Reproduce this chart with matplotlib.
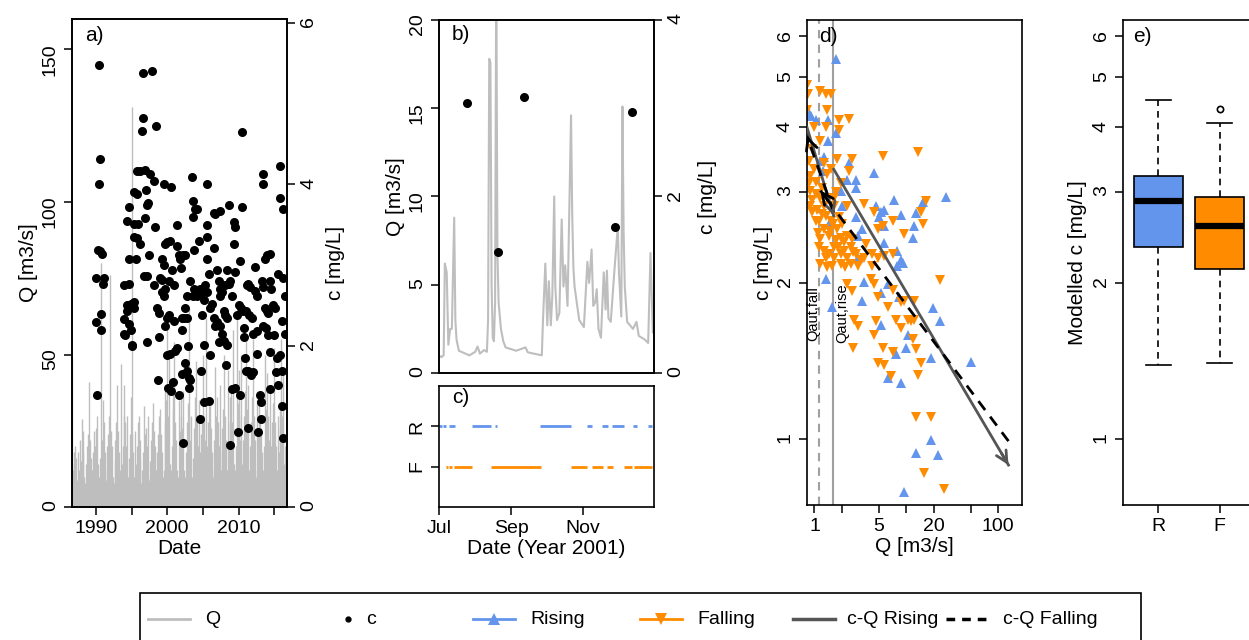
import matplotlib
matplotlib.use('Agg')
import matplotlib.pyplot as plt
import numpy as np
from matplotlib.patches import Rectangle

plt.rcParams['font.family'] = ['Liberation Sans', 'DejaVu Sans']

W, H = 1249, 640
GREY = '#BEBEBE'
BLUE = '#6495ED'
ORANGE = '#FF8C00'
DARK = '#555555'
LAB = 15
TCK = 14

# ---- panel a: long-term discharge (peaks, 8 per year from 1986.625) ----
qa_start = 1986.625
qa_peaks = [
    49, 12, 18,
    14, 20, 16, 9, 18, 12, 22, 15,
    29, 18, 25, 10, 8, 14, 20, 24,
    41, 22, 16, 9, 12, 18, 25, 20,
    26, 30, 14, 8, 10, 16, 80, 22,
    35, 28, 18, 9, 12, 20, 24, 30,
    76, 25, 20, 10, 8, 15, 22, 28,
    40, 25, 18, 12, 47, 14, 20, 30,
    40, 28, 20, 30, 10, 16, 24, 36,
    131, 24, 18, 10, 25, 14, 20, 28,
    30, 22, 16, 8, 12, 18, 33, 24,
    26, 20, 30, 10, 9, 15, 22, 28,
    34, 25, 20, 12, 10, 18, 24, 30,
    32, 24, 18, 10, 12, 40, 28, 35,
    60, 30, 50, 14, 12, 20, 32, 40,
    54, 28, 22, 12, 10, 35, 25, 30,
    38, 26, 38, 12, 10, 18, 28, 34,
    65, 30, 22, 30, 10, 16, 26, 36,
    48, 28, 20, 12, 35, 18, 24, 30,
    50, 30, 22, 14, 62, 20, 28, 34,
    33, 26, 18, 10, 12, 22, 46, 30,
    36, 28, 20, 40, 12, 18, 26, 32,
    50, 30, 22, 12, 45, 20, 28, 36,
    40, 28, 58, 14, 12, 20, 62, 34,
    45, 30, 22, 50, 14, 22, 30, 38,
    55, 32, 24, 40, 12, 20, 28, 36,
    55, 30, 22, 12, 10, 35, 26, 34,
    30, 26, 18, 10, 12, 20, 50, 32,
    44, 30, 22, 38, 12, 20, 28, 34,
    52, 28, 20, 12, 30, 18, 26, 32,
    55, 30, 45, 14, 20, 24, 36,
]

ca_points = [
    (1990.47, 5.48), (1990.56, 4.32), (1990.37, 4.0), (1990.28, 3.19), (1990.6, 3.17),
    (1990.84, 3.14), (1990.0, 2.84), (1991.07, 2.84), (1991.0, 2.77), (1990.05, 2.29),
    (1990.7, 2.39), (1990.7, 2.20), (1990.14, 1.39),
    (1996.59, 5.38), (1997.85, 5.40), (1996.59, 4.82), (1996.45, 4.66), (1998.46, 4.72),
    (1995.75, 4.16), (1996.82, 4.18), (1997.6, 4.13), (1998.18, 4.04), (1996.2, 4.16),
    (1995.28, 3.90), (1997.0, 3.93), (1995.75, 3.88), (1994.58, 3.72), (1997.15, 3.74),
    (1997.3, 3.77), (1994.35, 3.55), (1995.28, 3.51), (1995.9, 3.51), (1996.9, 3.58),
    (1998.3, 3.47), (1995.28, 3.35), (1995.75, 3.33), (1996.2, 3.26), (1994.58, 3.07),
    (1995.65, 3.07), (1997.5, 3.12), (1993.9, 2.75), (1994.6, 2.77), (1996.8, 2.87),
    (1997.15, 2.87), (1998.1, 2.75), (1994.35, 2.50), (1994.9, 2.52), (1995.28, 2.54),
    (1994.35, 2.43), (1995.28, 2.47), (1993.9, 2.33), (1994.6, 2.27), (1993.97, 2.15),
    (1994.1, 2.13), (1994.9, 2.20), (1995.0, 2.01), (1997.15, 2.04), (1995.0, 1.99),
    (1998.65, 1.58), (1998.8, 2.11),
    (1998.55, 2.47), (1998.8, 2.41), (1999.25, 3.07), (1999.5, 3.00), (1999.0, 2.84),
    (1999.25, 2.82), (1999.7, 2.70), (1999.25, 2.66), (1999.7, 3.26), (1999.6, 4.0),
    (2000.56, 3.97), (2000.0, 3.28), (2000.4, 3.30), (2000.65, 2.94), (2000.2, 2.80),
    (2001.0, 2.75), (1999.5, 2.61), (2000.0, 2.34), (2000.2, 2.38), (2001.0, 2.31),
    (1999.7, 2.24), (2000.0, 1.88), (2000.42, 1.90), (2001.1, 1.94), (2001.35, 1.97),
    (2000.8, 1.55), (2000.05, 1.48), (2000.5, 1.44), (2001.6, 1.39), (2001.35, 3.49),
    (2001.35, 3.24), (2001.6, 3.12), (2001.8, 3.07), (2001.9, 2.96), (2002.2, 3.12),
    (2002.5, 3.12), (2002.05, 2.34), (2002.4, 2.34), (2002.75, 2.34), (2002.05, 2.20),
    (2002.5, 2.47), (2002.75, 2.61), (2002.05, 1.65), (2002.5, 1.78), (2002.75, 1.69),
    (2003.0, 1.60), (2003.2, 1.58), (2003.1, 1.48), (2002.2, 0.79), (2002.85, 1.99),
    (2003.46, 4.09), (2003.6, 3.79), (2003.9, 3.70), (2004.15, 3.70), (2003.6, 3.60),
    (2003.2, 2.80), (2003.8, 2.70), (2003.6, 2.61), (2004.15, 2.61), (2004.4, 3.30),
    (2003.7, 3.19),
    (2004.6, 2.70), (2004.85, 2.66), (2005.55, 4.0), (2005.55, 3.49), (2005.55, 3.35),
    (2005.65, 3.07), (2005.8, 2.89), (2005.3, 2.75), (2005.55, 2.66), (2005.1, 2.57),
    (2004.85, 2.38), (2005.1, 2.01), (2004.75, 1.69), (2005.2, 1.30), (2005.9, 1.32),
    (2004.6, 1.09), (2006.5, 3.65), (2006.7, 3.63), (2007.4, 3.67), (2006.5, 3.21),
    (2006.0, 2.47), (2006.25, 2.52), (2006.5, 2.34), (2006.7, 2.24), (2006.96, 2.29),
    (2006.0, 1.88), (2006.96, 2.94), (2007.2, 2.80), (2007.35, 2.70), (2007.4, 2.61),
    (2007.65, 2.66), (2008.1, 2.75), (2008.35, 2.94), (2008.6, 2.77), (2008.83, 2.80),
    (2007.9, 2.43), (2008.1, 2.38), (2008.35, 2.34), (2007.4, 2.24), (2007.65, 2.15),
    (2007.9, 2.06), (2008.35, 2.01), (2007.2, 2.04), (2008.6, 3.74), (2008.3, 1.76),
    (2008.83, 0.77), (2009.05, 1.46), (2009.5, 1.48), (2009.3, 3.53), (2009.3, 3.26),
    (2009.5, 3.47), (2009.5, 2.91), (2009.05, 2.61), (2009.77, 2.38), (2009.86, 0.93),
    (2010.47, 4.65), (2010.47, 3.72), (2010.14, 3.05), (2010.0, 2.50), (2010.3, 2.47),
    (2010.6, 2.43), (2010.23, 1.39), (2010.7, 2.22), (2010.8, 2.11), (2010.93, 1.85),
    (2011.07, 1.69), (2011.4, 0.98), (2011.2, 2.75), (2011.4, 2.77), (2011.64, 2.73),
    (2011.07, 2.43), (2011.5, 2.38), (2011.9, 2.34), (2011.4, 1.69), (2011.73, 1.64),
    (2012.1, 1.67), (2012.33, 2.98), (2012.33, 2.68), (2012.57, 2.61), (2012.1, 2.15),
    (2012.57, 2.18), (2012.57, 1.90), (2012.8, 0.93), (2013.04, 1.39), (2013.13, 1.30),
    (2013.13, 1.09), (2013.5, 4.13), (2013.5, 4.0), (2013.74, 3.07), (2013.97, 3.12),
    (2014.44, 3.14), (2013.27, 2.80), (2013.5, 2.73), (2013.74, 2.47), (2013.97, 2.43),
    (2014.2, 2.41), (2013.5, 2.24), (2013.88, 2.22), (2014.2, 2.13), (2014.44, 1.92),
    (2014.44, 1.46), (2014.44, 2.80), (2014.5, 2.70), (2014.9, 2.50), (2015.14, 2.47),
    (2015.0, 2.13), (2015.37, 1.85), (2015.6, 2.89), (2015.84, 4.23), (2015.75, 3.83),
    (2016.1, 2.31), (2016.3, 3.70), (2016.3, 2.84), (2016.54, 2.61), (2016.54, 2.15),
    (2015.84, 1.88), (2016.1, 1.69), (2016.1, 1.25), (2016.2, 0.86), (2015.6, 1.51),
    (2015.28, 1.67),
]
ca_year = [p[0] for p in ca_points]
ca_conc = [p[1] for p in ca_points]

# ---- panel b: Jul-Dec 2001 (day 0 = 1 Jul) ----
qb_day = [0, 2, 4, 5, 6.6, 8, 9.5, 11, 13, 14, 15, 17, 26, 31, 33, 35, 38.6, 41, 42, 43,
          44, 45, 46, 47, 48, 49, 50, 51, 53, 55, 57, 66, 74, 76, 88, 89, 91, 92.7, 94,
          95.7, 97, 98.6, 99.5, 101, 103, 105, 106.5, 108, 110, 113, 114, 115, 116, 120,
          124, 127, 128.5, 130.6, 132, 133.7, 135, 136.5, 138.6, 141, 142.6, 143.7, 145,
          147, 150, 153, 154, 156, 157, 158, 159, 161, 166, 169, 171, 176, 179, 181, 183]
qb_q = [1.0, 0.9, 1.0, 6.2, 5.7, 1.6, 2.5, 2.5, 8.8, 3.0, 1.9, 1.26, 1.0, 1.2, 1.5, 1.1,
        1.3, 1.2, 3.0, 17.8, 17.6, 5.0, 2.0, 1.8, 4.0, 23.0, 6.8, 4.0, 2.5, 1.8, 1.45,
        1.26, 1.45, 1.17, 1.0, 3.0, 6.2, 2.7, 5.2, 2.7, 4.4, 10.0, 5.0, 3.0, 3.4, 8.7,
        4.9, 6.1, 3.8, 14.6, 9.0, 6.0, 4.9, 3.0, 2.6, 6.3, 5.1, 7.0, 3.8, 4.0, 4.75, 2.5,
        2.0, 5.7, 3.6, 5.8, 3.1, 2.9, 5.7, 8.3, 5.7, 3.2, 15.1, 8.0, 4.9, 2.9, 2.5, 2.9,
        2.1, 1.9, 1.7, 6.8, 2.3]
cb_day = [23.7, 50.6, 72.9, 150.9, 165.0]
cb_conc = [3.06, 1.37, 3.13, 1.65, 2.96]
month_ticks = [0, 62, 123]
month_labels = ['Jul', 'Sep', 'Nov']

# ---- panel c: rising / falling periods (start, end day) ----
rise_periods = [(0, 2.5), (3.5, 5.7), (8.6, 13.7), (28, 44.3), (48, 50), (86.5, 113.3),
                (126.5, 131.3), (139.9, 144.7), (148.4, 158.4), (166.1, 169.8), (179.2, 182.1)]
fall_periods = [(5.7, 7.5), (8.5, 10.9), (12.9, 28.6), (44.3, 87), (112.8, 127),
                (130.7, 140.4), (144.1, 149), (158.4, 165), (166.5, 182.7)]

# ---- panel d: c-Q relation ----
rising_pts = [
    (1.70, 5.42), (0.87, 4.27), (1.03, 4.13), (1.40, 4.13), (1.40, 3.77), (1.70, 3.90),
    (1.27, 3.50), (2.38, 3.41), (2.28, 3.17), (2.81, 3.17), (2.81, 3.06), (4.46, 3.27),
    (7.4, 2.89), (4.66, 2.82), (5.28, 2.75), (5.74, 2.77), (5.06, 2.68), (8.74, 2.71),
    (15.1, 2.87), (27.2, 2.93), (12.8, 2.73), (12.2, 2.58), (5.74, 2.58), (2.81, 2.68),
    (3.31, 2.55), (3.0, 2.47), (1.43, 2.60), (5.74, 2.39), (8.0, 2.31), (8.74, 2.22),
    (9.1, 2.19), (11.7, 2.45), (8.0, 2.16), (3.0, 2.24), (1.32, 2.04), (3.47, 2.01),
    (6.25, 1.99), (5.28, 1.91), (3.31, 1.85), (8.4, 1.88), (19.4, 1.79), (5.28, 1.66),
    (23.5, 1.69), (10.4, 1.59), (10.0, 1.50), (7.7, 1.46), (18.3, 1.43), (50.2, 1.41),
    (6.25, 1.31), (8.74, 1.28), (1.56, 1.80), (18.6, 0.995), (12.8, 0.94), (22, 0.93),
    (9.5, 0.79), (1.16, 3.45), (1.93, 3.02), (2.0, 2.82), (0.92, 4.20), (1.25, 3.30),
]
falling_pts = [
    (0.83, 4.83), (0.85, 4.65), (1.16, 4.71), (1.35, 4.65), (1.5, 4.63), (0.98, 4.0),
    (1.32, 4.0), (1.85, 4.13), (2.38, 4.16), (1.16, 3.77), (0.94, 3.64), (1.85, 3.96),
    (1.77, 3.47), (2.59, 3.47), (2.38, 3.30), (5.5, 3.52), (13.5, 3.59), (1.5, 3.33),
    (1.38, 3.25), (0.9, 3.22), (1.03, 3.14), (1.21, 3.06), (0.9, 3.02), (1.16, 2.92),
    (1.43, 2.92), (1.70, 3.0), (1.93, 3.12), (0.94, 2.89), (1.07, 2.77), (1.32, 2.70),
    (1.63, 2.82), (2.28, 2.82), (3.47, 2.85), (4.46, 2.75), (7.1, 2.64), (4.86, 2.55),
    (5.5, 2.58), (15.1, 2.60), (14.5, 2.75), (16.4, 2.88), (9.5, 2.49), (1.12, 2.64),
    (1.27, 2.55), (1.16, 2.43), (1.43, 2.47), (1.77, 2.55), (1.93, 2.45), (2.28, 2.47),
    (2.59, 2.43), (1.63, 2.35), (2.1, 2.31), (2.81, 2.28), (1.32, 2.24), (1.63, 2.24),
    (1.93, 2.18), (2.48, 2.18), (3.47, 2.24), (4.28, 2.16), (4.86, 2.24), (5.74, 2.26),
    (7.1, 2.28), (4.28, 2.28), (1.12, 2.35), (1.38, 2.15), (2.28, 1.99), (2.59, 1.93),
    (4.1, 2.04), (4.46, 1.99), (4.86, 1.88), (7.1, 1.94), (6.25, 1.80), (8.74, 1.84),
    (9.5, 1.85), (12.2, 1.85), (23.5, 2.03), (2.7, 1.70), (3.0, 1.65), (4.66, 1.69),
    (4.46, 1.59), (7.7, 1.70), (10.4, 1.70), (11.3, 1.69), (12.2, 1.70), (8.74, 1.64),
    (11.7, 1.56), (12.8, 1.49), (5.5, 1.50), (7.1, 1.47), (2.65, 1.50), (4.86, 1.40),
    (5.74, 1.39), (6.8, 1.32), (14.5, 1.40), (13.3, 1.33), (12.8, 1.10), (18.6, 1.10),
    (15.7, 0.86), (25.6, 0.80), (0.83, 4.33), (1.38, 4.33), (0.87, 3.44), (0.98, 3.33),
    (1.27, 3.41), (0.9, 2.82), (1.03, 2.64), (1.50, 2.64), (1.85, 2.68), (2.0, 2.60),
    (1.70, 2.42), (1.27, 2.31), (1.43, 2.28), (1.93, 2.28), (2.28, 2.24), (3.0, 2.16),
    (3.19, 2.22), (1.16, 2.18), (1.56, 2.16), (2.1, 2.40), (2.48, 2.35), (1.27, 2.82),
    (1.63, 2.92), (0.88, 3.12), (1.05, 2.98), (1.22, 2.72), (1.48, 2.52), (1.8, 2.35),
    (2.15, 2.15), (2.6, 2.30), (3.6, 2.38), (1.1, 2.50), (0.95, 2.75), (1.6, 2.60),
]
q_aut_fall = 1.11
q_aut_rise = 1.60
cq_rise_low = [(0.83, 4.0), (1.62, 2.70)]
cq_rise_high = [(1.62, 3.32), (129.0, 0.89)]
cq_fall_high = [(129.0, 0.99), (1.16, 3.02)]
cq_fall_low = [(1.62, 2.74), (0.83, 3.85)]

# ---- panel e: modelled concentration boxplots ----
box_names = ['R', 'F']
box_colors = [BLUE, ORANGE]
box_whislo = [1.39, 1.40]
box_q1 = [2.35, 2.13]
box_med = [2.88, 2.58]
box_q3 = [3.22, 2.93]
box_whishi = [4.51, 4.07]
box_fliers = [[], [4.35]]

fig = plt.figure(figsize=(W / 100, H / 100), dpi=100)


def px_axes(x0, y0, x1, y1):
    return fig.add_axes([x0 / W, 1 - y1 / H, (x1 - x0) / W, (y1 - y0) / H])


def style(ax):
    ax.tick_params(direction='out', length=6, width=1.1, labelsize=TCK, colors='black')
    ax.tick_params(axis='y', labelrotation=90)
    for s in ax.spines.values():
        s.set_linewidth(1.2)
    ax.minorticks_off()


def panel_label(ax, s, x=0.06):
    ax.text(x, 0.985, s, transform=ax.transAxes, ha='left', va='top', fontsize=15, zorder=10)


# a)
ax_a = px_axes(72, 19, 287, 507)
qa_time = qa_start + np.arange(len(qa_peaks)) / 8.0
ax_a.vlines(qa_time, 0, qa_peaks, color=GREY, lw=1.0)
ax_a.set_xlim(1986.65, 2016.8)
ax_a.set_ylim(0, 160)
ax_a.set_xticks([1990, 1995, 2000, 2005, 2010, 2015])
ax_a.set_xticklabels(['1990', '', '2000', '', '2010', ''])
ax_a.set_yticks([0, 50, 100, 150])
style(ax_a)
ax_a.set_xlabel('Date', fontsize=LAB, labelpad=1)
ax_a.set_ylabel('Q [m3/s]', fontsize=LAB, labelpad=3)
ax_a2 = ax_a.twinx()
ax_a2.plot(ca_year, ca_conc, 'o', color='black', ms=6.5, mew=0)
ax_a2.set_ylim(0, 6.05)
ax_a2.set_yticks([0, 2, 4, 6])
style(ax_a2)
ax_a2.set_ylabel('c [mg/L]', fontsize=LAB, labelpad=6)
panel_label(ax_a2, 'a)')

# b)
ax_b = px_axes(439, 20, 654, 373)
ax_b.plot(qb_day, qb_q, color=GREY, lw=1.5)
ax_b.set_xlim(0, 184)
ax_b.set_ylim(0, 20)
ax_b.set_xticks([])
ax_b.set_yticks([0, 5, 10, 15, 20])
style(ax_b)
ax_b.set_ylabel('Q [m3/s]', fontsize=LAB, labelpad=3)
ax_b2 = ax_b.twinx()
ax_b2.plot(cb_day, cb_conc, 'o', color='black', ms=6.5, mew=0)
ax_b2.set_ylim(0, 4)
ax_b2.set_yticks([0, 2, 4])
style(ax_b2)
ax_b2.set_ylabel('c [mg/L]', fontsize=LAB, labelpad=10)
panel_label(ax_b2, 'b)')

# c)
ax_c = px_axes(439, 386, 654, 507)
for s0, s1 in rise_periods:
    ax_c.hlines(1, s0, s1, color=BLUE, lw=2)
for s0, s1 in fall_periods:
    ax_c.hlines(0, s0, s1, color=ORANGE, lw=2)
ax_c.set_xlim(0, 184)
ax_c.set_ylim(-1, 2)
ax_c.set_xticks(month_ticks)
ax_c.set_xticklabels(month_labels)
ax_c.set_yticks([0, 1])
ax_c.set_yticklabels(['F', 'R'])
style(ax_c)
ax_c.set_xlabel('Date (Year 2001)', fontsize=LAB, labelpad=1)
panel_label(ax_c, 'c)')

# d)
ax_d = px_axes(807, 20, 1022, 505)
ax_d.set_xscale('log')
ax_d.set_yscale('log')
ax_d.axvline(q_aut_fall, color='#A0A0A0', ls=(0, (4, 3)), lw=1.5)
ax_d.axvline(q_aut_rise, color='#A0A0A0', lw=1.5)
ax_d.plot([p[0] for p in rising_pts], [p[1] for p in rising_pts], '^', color=BLUE, ms=7, mew=0)
ax_d.plot([p[0] for p in falling_pts], [p[1] for p in falling_pts], 'v', color=ORANGE, ms=7, mew=0)


def cq_arrow(seg, color, ls):
    (x0, y0), (x1, y1) = seg
    ax_d.plot([x0, x1], [y0, y1], color=color, lw=2, ls=ls, zorder=5)
    xb = x1 * (x0 / x1) ** 0.04
    yb = y1 * (y0 / y1) ** 0.04
    ax_d.annotate('', xy=(x1, y1), xytext=(xb, yb),
                  arrowprops=dict(arrowstyle='->', color=color, lw=2,
                                  mutation_scale=20, shrinkA=0, shrinkB=0), zorder=6)


cq_arrow(cq_rise_low, DARK, '-')
cq_arrow(cq_rise_high, DARK, '-')
cq_arrow(cq_fall_high, 'black', (0, (4, 3)))
cq_arrow(cq_fall_low, 'black', (0, (4, 3)))
ax_d.text(q_aut_fall * 0.875, 1.75, 'Qaut,fall', rotation=90, ha='center', va='center', fontsize=10.5)
ax_d.text(q_aut_rise * 1.26, 1.75, 'Qaut,rise', rotation=90, ha='center', va='center', fontsize=10.5)
ax_d.set_xlim(0.83, 181)
ax_d.set_ylim(0.745, 6.45)
ax_d.set_xticks([1, 2, 5, 10, 20, 50, 100])
ax_d.set_xticklabels(['1', '', '5', '', '20', '', '100'])
ax_d.set_yticks([1, 2, 3, 4, 5, 6])
ax_d.set_yticklabels(['1', '2', '3', '4', '5', '6'])
style(ax_d)
ax_d.set_xlabel('Q [m3/s]', fontsize=LAB, labelpad=1)
ax_d.set_ylabel('c [mg/L]', fontsize=LAB, labelpad=3)
panel_label(ax_d, 'd)', x=0.055)

# e)
ax_e = px_axes(1123, 20, 1255, 505)
stats = []
for i in range(len(box_names)):
    stats.append(dict(label=box_names[i], whislo=box_whislo[i], q1=box_q1[i], med=box_med[i],
                      q3=box_q3[i], whishi=box_whishi[i], fliers=box_fliers[i]))
bp = ax_e.bxp(stats, positions=[1, 2], widths=0.8, patch_artist=True,
              boxprops=dict(edgecolor='black', lw=1.2),
              medianprops=dict(color='black', lw=4.5),
              whiskerprops=dict(color='black', lw=1.2, ls=(0, (4, 3))),
              capprops=dict(color='black', lw=1.2),
              flierprops=dict(marker='o', mfc='none', mec='black', ms=4.5, mew=1.2),
              capwidths=0.4)
for patch, col in zip(bp['boxes'], box_colors):
    patch.set_facecolor(col)
ax_e.set_yscale('log')
ax_e.set_xlim(0.426, 2.574)
ax_e.set_ylim(0.745, 6.45)
ax_e.set_yticks([1, 2, 3, 4, 5, 6])
ax_e.set_yticklabels(['1', '2', '3', '4', '5', '6'])
ax_e.set_xticks([1, 2])
ax_e.set_xticklabels(box_names)
style(ax_e)
ax_e.set_ylabel('Modelled c [mg/L]', fontsize=LAB, labelpad=4)
panel_label(ax_e, 'e)', x=0.08)

# legend strip
LEG = 14
ax_l = fig.add_axes([0, 0, 1, 1])
ax_l.set_xlim(0, W)
ax_l.set_ylim(0, H)
ax_l.axis('off')
ax_l.add_patch(Rectangle((140, -10), 1001, 57, fill=False, ec='black', lw=1.2))
ly = 21
ax_l.plot([148, 190], [ly, ly], color=GREY, lw=2)
ax_l.text(205, ly, 'Q', va='center', fontsize=LEG)
ax_l.plot([348], [ly], 'o', color='black', ms=3.5)
ax_l.text(366, ly, 'c', va='center', fontsize=LEG)
ax_l.plot([473, 515], [ly, ly], color=BLUE, lw=2)
ax_l.plot([494], [ly], '^', color=BLUE, ms=9, mew=0)
ax_l.text(530, ly, 'Rising', va='center', fontsize=LEG)
ax_l.plot([640, 682], [ly, ly], color=ORANGE, lw=2)
ax_l.plot([661], [ly], 'v', color=ORANGE, ms=9, mew=0)
ax_l.text(697, ly, 'Falling', va='center', fontsize=LEG)
ax_l.plot([793, 835], [ly, ly], color=DARK, lw=2.5)
ax_l.text(847, ly, 'c-Q Rising', va='center', fontsize=LEG)
ax_l.plot([946, 990], [ly, ly], color='black', lw=2.5, ls=(0, (2.5, 2)))
ax_l.text(1003, ly, 'c-Q Falling', va='center', fontsize=LEG)

fig.savefig('out.png', dpi=100)
